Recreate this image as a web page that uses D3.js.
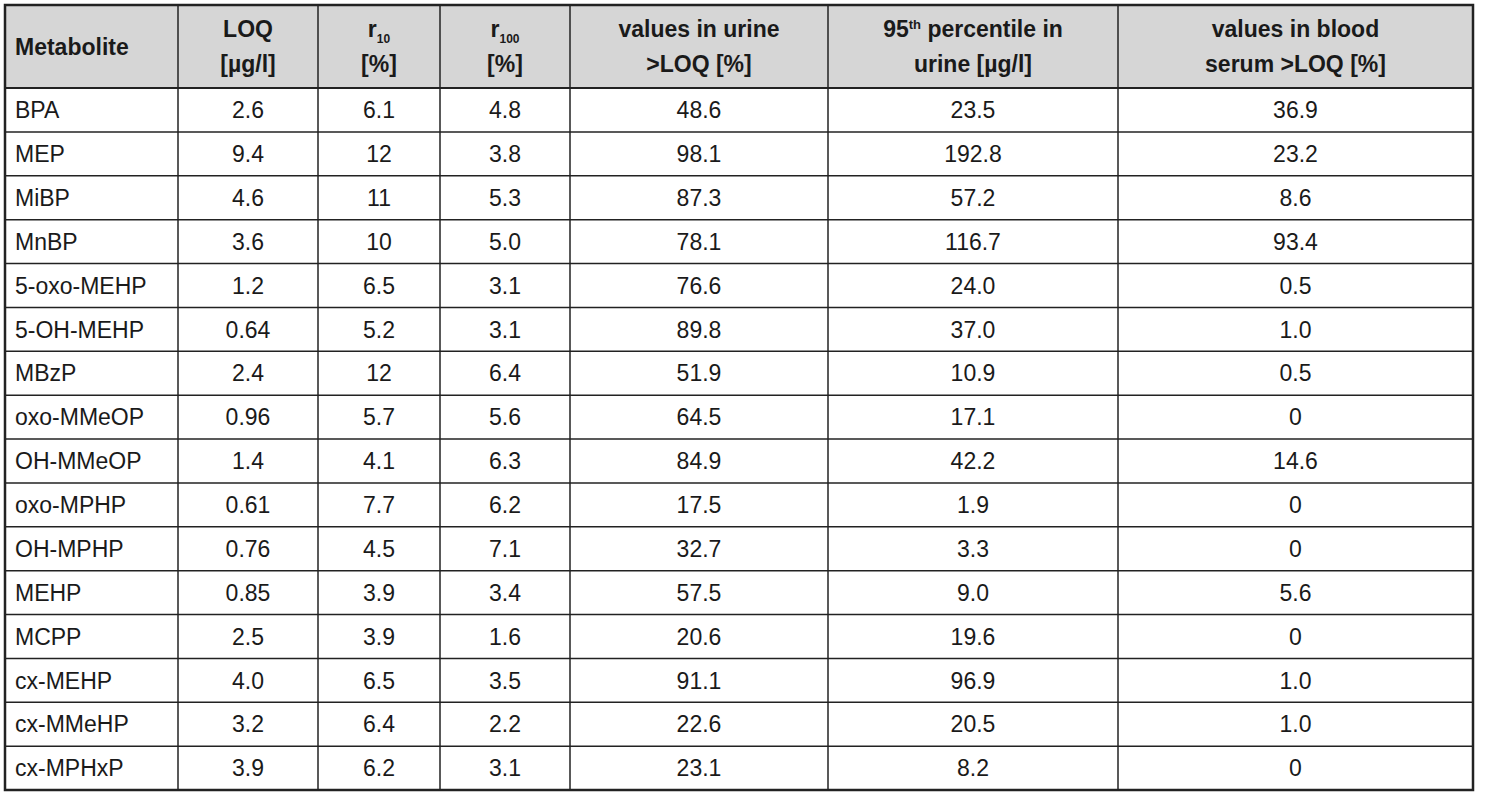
<!DOCTYPE html>
<html>
<head>
<meta charset="utf-8">
<script src="https://cdn.jsdelivr.net/npm/d3@7"></script>
<style>
  body { margin: 0; background: #fff; }
  text { font-family: "Liberation Sans", Arial, sans-serif; fill: #1a1a1a; }
</style>
</head>
<body>
<div id="main"></div>
<script>
// table content
const metabolites = ['BPA','MEP','MiBP','MnBP','5-oxo-MEHP','5-OH-MEHP','MBzP','oxo-MMeOP','OH-MMeOP','oxo-MPHP','OH-MPHP','MEHP','MCPP','cx-MEHP','cx-MMeHP','cx-MPHxP'];
const loq      = ['2.6','9.4','4.6','3.6','1.2','0.64','2.4','0.96','1.4','0.61','0.76','0.85','2.5','4.0','3.2','3.9'];
const r10      = ['6.1','12','11','10','6.5','5.2','12','5.7','4.1','7.7','4.5','3.9','3.9','6.5','6.4','6.2'];
const r100     = ['4.8','3.8','5.3','5.0','3.1','3.1','6.4','5.6','6.3','6.2','7.1','3.4','1.6','3.5','2.2','3.1'];
const urineGtLoq = ['48.6','98.1','87.3','78.1','76.6','89.8','51.9','64.5','84.9','17.5','32.7','57.5','20.6','91.1','22.6','23.1'];
const urineP95 = ['23.5','192.8','57.2','116.7','24.0','37.0','10.9','17.1','42.2','1.9','3.3','9.0','19.6','96.9','20.5','8.2'];
const serumGtLoq = ['36.9','23.2','8.6','93.4','0.5','1.0','0.5','0','14.6','0','0','5.6','0','1.0','1.0','0'];

const columns = [metabolites, loq, r10, r100, urineGtLoq, urineP95, serumGtLoq];

// layout
const W = 1488, H = 800;
const tLeft = 5, tTop = 5, headerBottom = 88, tBottom = 790;
const colEdges = [5, 178, 318, 440, 570, 828, 1118, 1473];
const fs = 23;

const svg = d3.select('#main').append('svg').attr('width', W).attr('height', H);

const yScale = d3.scaleBand()
    .domain(d3.range(metabolites.length))
    .range([headerBottom, tBottom]);

// header background
svg.append('rect')
    .attr('x', tLeft).attr('y', tTop)
    .attr('width', colEdges[7] - tLeft).attr('height', headerBottom - tTop)
    .attr('fill', '#d6d6d6');

// header text
const header = svg.append('g').attr('font-weight', 'bold').attr('font-size', fs);
header.append('text').attr('x', colEdges[0] + 10).attr('y', 55).text('Metabolite');

function twoLine(ci, first, second) {
    const cx = (colEdges[ci] + colEdges[ci + 1]) / 2;
    const t1 = header.append('text').attr('text-anchor', 'middle').attr('x', cx).attr('y', 37);
    first(t1);
    header.append('text').attr('text-anchor', 'middle').attr('x', cx).attr('y', 72).text(second);
}
twoLine(1, t => t.text('LOQ'), '[µg/l]');
twoLine(2, t => { t.append('tspan').text('r'); t.append('tspan').attr('font-size', 12).attr('dy', 6).text('10'); }, '[%]');
twoLine(3, t => { t.append('tspan').text('r'); t.append('tspan').attr('font-size', 12).attr('dy', 6).text('100'); }, '[%]');
twoLine(4, t => t.text('values in urine'), '>LOQ [%]');
twoLine(5, t => { t.append('tspan').text('95'); t.append('tspan').attr('font-size', 13).attr('dy', -8).text('th'); t.append('tspan').attr('dy', 8).text(' percentile in'); }, 'urine [µg/l]');
twoLine(6, t => t.text('values in blood'), 'serum >LOQ [%]');

// body text
const body = svg.append('g').attr('font-size', fs);
columns.forEach((col, ci) => {
    body.selectAll(null)
        .data(col)
        .enter()
        .append('text')
        .attr('x', ci === 0 ? colEdges[0] + 10 : (colEdges[ci] + colEdges[ci + 1]) / 2)
        .attr('y', (d, i) => yScale(i) + yScale.bandwidth() / 2)
        .attr('dy', '0.36em')
        .attr('text-anchor', ci === 0 ? 'start' : 'middle')
        .text(d => d);
});

// grid lines
const grid = svg.append('g').attr('stroke', '#222').attr('stroke-width', 1.5);
grid.selectAll('.h')
    .data(d3.range(1, metabolites.length))
    .enter().append('line')
    .attr('x1', tLeft).attr('x2', colEdges[7])
    .attr('y1', i => yScale(i)).attr('y2', i => yScale(i));
grid.append('line')
    .attr('x1', tLeft).attr('x2', colEdges[7])
    .attr('y1', headerBottom).attr('y2', headerBottom)
    .attr('stroke-width', 2);
grid.selectAll('.v')
    .data(colEdges.slice(1, -1))
    .enter().append('line')
    .attr('x1', d => d).attr('x2', d => d)
    .attr('y1', tTop).attr('y2', tBottom);
grid.append('rect')
    .attr('x', tLeft).attr('y', tTop)
    .attr('width', colEdges[7] - tLeft).attr('height', tBottom - tTop)
    .attr('fill', 'none').attr('stroke-width', 2.5);
</script>
</body>
</html>
